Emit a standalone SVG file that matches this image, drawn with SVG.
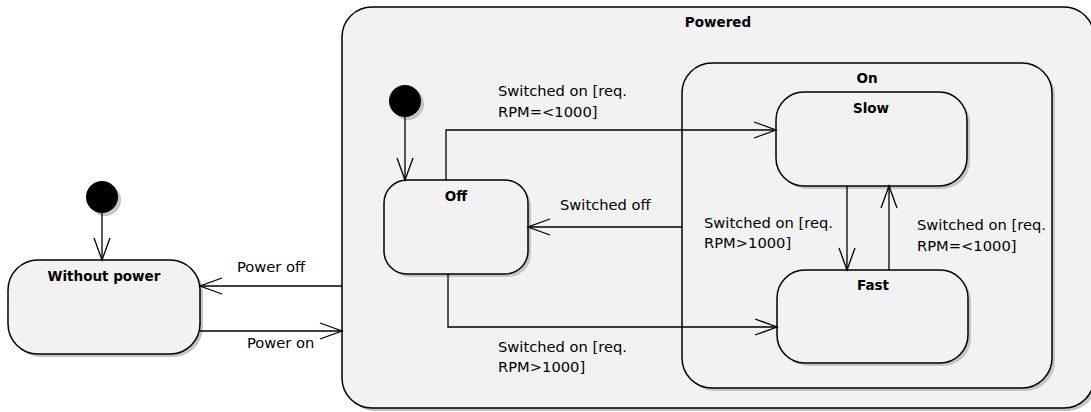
<svg xmlns="http://www.w3.org/2000/svg" width="1091" height="412" viewBox="0 0 1091 412">
<style>
.st{fill:#f2f2f2;stroke:#000;stroke-width:1.5}
.sh{fill:#c4c4c4;stroke:none}
.init{fill:#000;stroke:none}
.ttl{font-family:"DejaVu Sans",sans-serif;font-weight:bold;font-size:13.5px;fill:#000;text-anchor:middle}
.lbl{font-family:"DejaVu Sans",sans-serif;font-size:14.7px;fill:#000}
.cn{fill:none;stroke:#000;stroke-width:1.3}
</style>
<defs>
<marker id="arr" markerUnits="userSpaceOnUse" markerWidth="30" markerHeight="24" viewBox="-24 -12 30 24" refX="0" refY="0" orient="auto">
<path d="M-22,-8 L0,0 L-22,8" fill="none" stroke="#000" stroke-width="1.3"/>
</marker>
</defs>
<rect width="1091" height="412" fill="#fff"/>
<g id="powered">
<rect class="sh" x="345" y="10" width="752" height="401" rx="30"/>
<rect class="st" x="342" y="7" width="752" height="401" rx="30"/>
<text class="ttl" x="718" y="27">Powered</text>
</g>
<g id="on">
<rect class="sh" x="685" y="66" width="370" height="325" rx="30"/>
<rect class="st" x="682" y="63" width="370" height="325" rx="30"/>
<text class="ttl" x="867" y="83">On</text>
</g>
<g id="slow">
<rect class="sh" x="779" y="95" width="191" height="94" rx="28"/>
<rect class="st" x="776" y="92" width="191" height="94" rx="28"/>
<text class="ttl" x="871" y="113">Slow</text>
</g>
<g id="fast">
<rect class="sh" x="780" y="273" width="191" height="93" rx="28"/>
<rect class="st" x="777" y="270" width="191" height="93" rx="28"/>
<text class="ttl" x="873" y="290">Fast</text>
</g>
<g id="off">
<rect class="sh" x="387" y="183" width="144" height="94" rx="23"/>
<rect class="st" x="384" y="180" width="144" height="94" rx="23"/>
<text class="ttl" x="456" y="201">Off</text>
</g>
<g id="init-powered">
<circle class="sh" cx="408" cy="104" r="16"/>
<circle class="init" cx="405" cy="101" r="16"/>
</g>
<g id="without-power">
<rect class="sh" x="11" y="263" width="192" height="94" rx="30"/>
<rect class="st" x="8" y="260" width="192" height="94" rx="30"/>
<text class="ttl" x="104" y="281">Without power</text>
</g>
<g id="init-main">
<circle class="sh" cx="105" cy="200" r="16"/>
<circle class="init" cx="102" cy="197" r="16"/>
</g>
<g id="connectors">
<path class="cn" d="M102,213 L102,260" marker-end="url(#arr)"/>
<path class="cn" d="M342,286 L200,286" marker-end="url(#arr)"/>
<path class="cn" d="M200,331 L342,331" marker-end="url(#arr)"/>
<path class="cn" d="M405,117 L405,180" marker-end="url(#arr)"/>
<path class="cn" d="M446,180 L446,130 L776,130" marker-end="url(#arr)"/>
<path class="cn" d="M682,227 L528,227" marker-end="url(#arr)"/>
<path class="cn" d="M448,274 L448,327 L777,327" marker-end="url(#arr)"/>
<path class="cn" d="M847,186 L847,270" marker-end="url(#arr)"/>
<path class="cn" d="M889,270 L889,186" marker-end="url(#arr)"/>
<text class="lbl" x="237" y="272">Power off</text>
<text class="lbl" x="247" y="348">Power on</text>
<text class="lbl" x="498" y="96">Switched on [req.</text>
<text class="lbl" x="498" y="117">RPM=&lt;1000]</text>
<text class="lbl" x="560" y="210">Switched off</text>
<text class="lbl" x="498" y="352">Switched on [req.</text>
<text class="lbl" x="498" y="372">RPM&gt;1000]</text>
<text class="lbl" x="704" y="228">Switched on [req.</text>
<text class="lbl" x="704" y="248">RPM&gt;1000]</text>
<text class="lbl" x="917" y="230">Switched on [req.</text>
<text class="lbl" x="917" y="251">RPM=&lt;1000]</text>
</g>
</svg>
